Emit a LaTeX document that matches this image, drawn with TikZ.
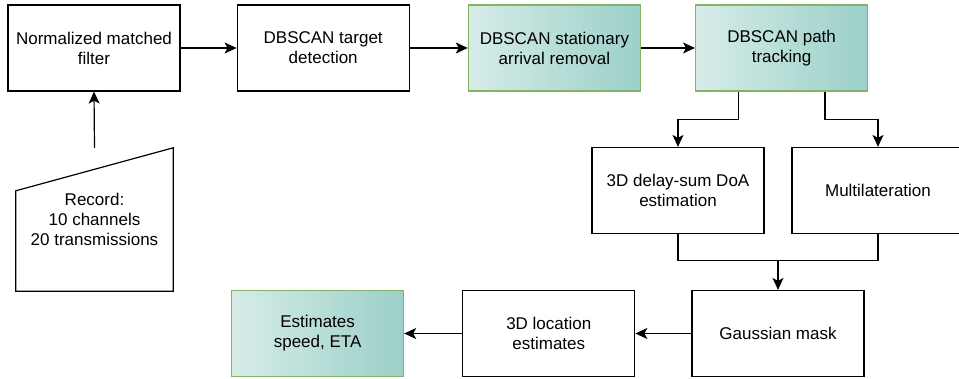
\documentclass[tikz,border=0pt]{standalone}
\usepackage{fontspec}
\setmainfont{Liberation Sans}
\usetikzlibrary{arrows.meta, positioning, calc}
\usepackage{xcolor}

\definecolor{tealL}{HTML}{D6ECE8}
\definecolor{tealR}{HTML}{9BD0C8}
\definecolor{greenEdge}{HTML}{82B366}

\begin{document}
\begin{tikzpicture}[x=1pt, y=-1pt, font=\fontsize{17}{20}\selectfont,
        block/.style={rectangle, draw, line width=1.2pt, minimum width=172pt, minimum height=86pt, align=center, inner sep=2pt},
        shaded/.style={block, draw=greenEdge, left color=tealL, right color=tealR},
        flow/.style={-{Stealth[length=12pt, width=11pt, inset=3pt]}, line width=1.2pt}
    ]
        \useasboundingbox (0,0) rectangle (959,379);

        % Nodes
        \node [block] (mf) at (94,48) {Normalized matched\\filter};
        \node [block, right=56pt of mf] (det) {DBSCAN target\\detection};
        \node [shaded, right=58pt of det] (stat) {DBSCAN stationary\\arrival removal};
        \node [shaded, right=54pt of stat] (track) {DBSCAN path\\tracking};

        \node [block] (doa) at (678,190.5) {3D delay-sum DoA\\estimation};
        \node [block] (mlat) at (878,190.5) {Multilateration};

        \node [block] (gauss) at (778,333.5) {Gaussian mask};
        \node [block, left=56pt of gauss] (loc) {3D location\\estimates};
        \node [shaded, left=58pt of loc] (est) {Estimates\\speed, ETA};

        % Record input (manual input shape)
        \node [minimum width=157pt, minimum height=143pt, align=center] (rec) at (94.5,219.5) {Record:\\10 channels\\20 transmissions};
        \draw [line width=1.2pt] (rec.south west) -- ([yshift=-43pt]rec.north west) -- (rec.north east) -- (rec.south east) -- cycle;

        % Arrows
        \draw [flow] (rec.north) -- (mf.south);
        \draw [flow] (mf) -- (det);
        \draw [flow] (det) -- (stat);
        \draw [flow] (stat) -- (track);
        \draw [flow] ($(track.south west)!.25!(track.south east)$) -- ++(0,28) -| (doa.north);
        \draw [flow] ($(track.south west)!.75!(track.south east)$) -- ++(0,28) -| (mlat.north);

        \coordinate (join) at ($(gauss.north)+(0,-29)$);
        \draw [line width=1.2pt] (doa.south) |- (join) -| (mlat.south);
        \draw [flow] (join) -- (gauss.north);
        \draw [flow] (gauss) -- (loc);
        \draw [flow] (loc) -- (est);
    \end{tikzpicture}
\end{document}
